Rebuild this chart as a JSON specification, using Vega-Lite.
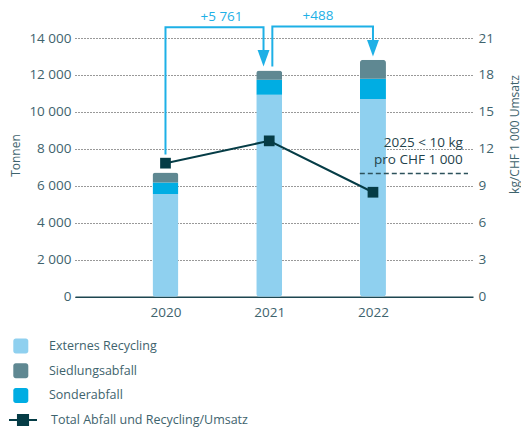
{
  "$schema": "https://vega.github.io/schema/vega-lite/v6.json",
  "width": 398,
  "height": 258.7,
  "autosize": "none",
  "padding": {"left": 75, "top": 38, "right": 48, "bottom": 132.3},
  "background": "white",
  "config": {
    "view": {"stroke": null},
    "font": "Open Sans",
    "locale": {"number": {"decimal": ",", "thousands": " ", "grouping": [3], "currency": ["", ""]}},
    "axis": {
      "labelFont": "Open Sans",
      "titleFont": "Open Sans",
      "labelColor": "#3e636d",
      "titleColor": "#3e636d",
      "labelFontSize": 13.5,
      "titleFontSize": 12,
      "titleFontWeight": "normal",
      "ticks": false,
      "domain": false
    }
  },
  "datasets": {
    "bars": [
      {"year": 2020, "type": "Externes Recycling", "t": 5560},
      {"year": 2020, "type": "Sonderabfall", "t": 615},
      {"year": 2020, "type": "Siedlungsabfall", "t": 545},
      {"year": 2021, "type": "Externes Recycling", "t": 10930},
      {"year": 2021, "type": "Sonderabfall", "t": 810},
      {"year": 2021, "type": "Siedlungsabfall", "t": 505},
      {"year": 2022, "type": "Externes Recycling", "t": 10695},
      {"year": 2022, "type": "Sonderabfall", "t": 1100},
      {"year": 2022, "type": "Siedlungsabfall", "t": 1030}
    ],
    "arrows": [
      {"arrow": "a1", "step": 1, "year": 2020, "t": 7700},
      {"arrow": "a1", "step": 2, "year": 2020, "t": 14580},
      {"arrow": "a1", "step": 3, "year": 2020.945, "t": 14580},
      {"arrow": "a1", "step": 4, "year": 2020.945, "t": 13200},
      {"arrow": "a2", "step": 1, "year": 2021.03, "t": 12460},
      {"arrow": "a2", "step": 2, "year": 2021.03, "t": 14620},
      {"arrow": "a2", "step": 3, "year": 2022, "t": 14620},
      {"arrow": "a2", "step": 4, "year": 2022, "t": 13800}
    ],
    "heads": [
      {"year": 2020.945, "t": 12460},
      {"year": 2022, "t": 13000}
    ],
    "deltas": [
      {"year": 2020.54, "t": 15150, "label": "+5 761"},
      {"year": 2021.47, "t": 15170, "label": "+488"}
    ],
    "ratio": [
      {"year": 2020, "kg": 10.84, "series": "Total Abfall und Recycling/Umsatz"},
      {"year": 2021, "kg": 12.65, "series": "Total Abfall und Recycling/Umsatz"},
      {"year": 2022, "kg": 8.48, "series": "Total Abfall und Recycling/Umsatz"}
    ],
    "target": [
      {"year": 2021.873, "year2": 2022.916, "kg": 10}
    ],
    "note": [
      {"year": 2022.866, "kg": 12.45, "label": "2025 < 10 kg"},
      {"year": 2022.866, "kg": 11.11, "label": "pro CHF 1 000"}
    ]
  },
  "encoding": {
    "x": {
      "field": "year",
      "type": "quantitative",
      "scale": {"domain": [2019.176, 2022.916], "nice": false, "zero": false},
      "axis": {
        "values": [2020, 2021, 2022],
        "format": "d",
        "title": null,
        "grid": false,
        "domain": true,
        "domainColor": "#1d4650",
        "domainWidth": 1.5,
        "labelPadding": 9,
        "labelDx": 2
      }
    }
  },
  "layer": [
    {
      "encoding": {
        "y": {
          "field": "t",
          "type": "quantitative",
          "scale": {"domain": [0, 14000], "nice": false},
          "axis": {
            "orient": "left",
            "values": [0, 2000, 4000, 6000, 8000, 10000, 12000, 14000],
            "format": ",d",
            "title": "Tonnen",
            "grid": true,
            "gridDash": [1, 2],
            "gridColor": "#333333",
            "gridWidth": 1,
            "labelPadding": 4,
            "titleAngle": -90,
            "titleX": -60,
            "titleY": 117,
            "titleBaseline": "middle",
            "titleAlign": "center"
          }
        }
      },
      "layer": [
        {
          "data": {"name": "bars"},
          "transform": [
            {"calculate": "indexof(['Externes Recycling','Sonderabfall','Siedlungsabfall'], datum.type)", "as": "o"}
          ],
          "mark": {"type": "bar", "size": 26, "cornerRadius": 3},
          "encoding": {
            "color": {
              "field": "type",
              "type": "nominal",
              "scale": {
                "domain": ["Externes Recycling", "Siedlungsabfall", "Sonderabfall"],
                "range": ["#8fd0ef", "#5f8892", "#00ade3"]
              },
              "legend": {
                "orient": "none",
                "legendX": -61.7,
                "legendY": 300.5,
                "title": null,
                "padding": 0,
                "symbolType": "M-0.67,-1H0.67A0.33,0.33 0 0 1 1,-0.67V0.67A0.33,0.33 0 0 1 0.67,1H-0.67A0.33,0.33 0 0 1 -1,0.67V-0.67A0.33,0.33 0 0 1 -0.67,-1Z",
                "symbolSize": 225,
                "symbolStrokeWidth": 0,
                "symbolOpacity": 1,
                "labelOffset": 20.7,
                "rowPadding": 9.7,
                "labelFont": "Open Sans",
                "labelFontSize": 12.5,
                "labelColor": "#3e636d"
              }
            },
            "order": {"field": "o", "type": "quantitative"}
          }
        },
        {
          "data": {"name": "arrows"},
          "mark": {"type": "line", "color": "#1eb0e6", "strokeWidth": 2, "strokeJoin": "miter"},
          "encoding": {
            "detail": {"field": "arrow", "type": "nominal"},
            "order": {"field": "step", "type": "quantitative"}
          }
        },
        {
          "data": {"name": "heads"},
          "mark": {"type": "point", "shape": "M-0.72,-2L0.72,-2L0,0Z", "size": 272, "filled": true, "color": "#1eb0e6", "opacity": 1, "strokeWidth": 0}
        },
        {
          "data": {"name": "deltas"},
          "mark": {"type": "text", "color": "#1eb0e6", "fontSize": 13.5, "font": "Open Sans", "baseline": "middle"},
          "encoding": {"text": {"field": "label"}}
        }
      ]
    },
    {
      "encoding": {
        "y": {
          "field": "kg",
          "type": "quantitative",
          "scale": {"domain": [0, 21], "nice": false},
          "axis": {
            "orient": "right",
            "values": [0, 3, 6, 9, 12, 15, 18, 21],
            "title": "kg/CHF 1 000 Umsatz",
            "grid": false,
            "labelPadding": 5,
            "titleAngle": -90,
            "titleX": 41,
            "titleY": 96,
            "titleBaseline": "middle",
            "titleAlign": "center"
          }
        }
      },
      "layer": [
        {
          "data": {"name": "target"},
          "mark": {"type": "rule", "strokeDash": [5, 3], "strokeWidth": 1.5, "color": "#2c525b"},
          "encoding": {"x2": {"field": "year2"}}
        },
        {
          "data": {"name": "ratio"},
          "mark": {"type": "line", "strokeWidth": 2},
          "encoding": {
            "stroke": {
              "field": "series",
              "type": "nominal",
              "scale": {"range": ["#053c46"]},
              "legend": {
                "orient": "none",
                "legendX": -67,
                "legendY": 367,
                "title": null,
                "padding": 0,
                "symbolType": "M-1,0H1M-0.36,-0.36H0.36V0.36H-0.36Z",
                "symbolSize": 784,
                "symbolStrokeWidth": 2,
                "symbolFillColor": "#053c46",
                "symbolStrokeColor": "#053c46",
                "symbolOpacity": 1,
                "labelOffset": 13,
                "labelLimit": 400,
                "labelFont": "Open Sans",
                "labelFontSize": 12.5,
                "labelColor": "#3e636d",
                "encode": {
                  "symbols": {
                    "update": {
                      "stroke": {"value": "#053c46"},
                      "strokeWidth": {"value": 2},
                      "fill": {"value": "#053c46"},
                      "opacity": {"value": 1}
                    }
                  }
                }
              }
            }
          }
        },
        {
          "data": {"name": "ratio"},
          "mark": {"type": "square", "size": 115, "color": "#053c46", "opacity": 1, "filled": true}
        },
        {
          "data": {"name": "note"},
          "mark": {"type": "text", "align": "right", "baseline": "middle", "fontSize": 13.5, "font": "Open Sans", "color": "#1f434c"},
          "encoding": {"text": {"field": "label"}}
        }
      ]
    }
  ],
  "resolve": {"scale": {"y": "independent"}}
}
